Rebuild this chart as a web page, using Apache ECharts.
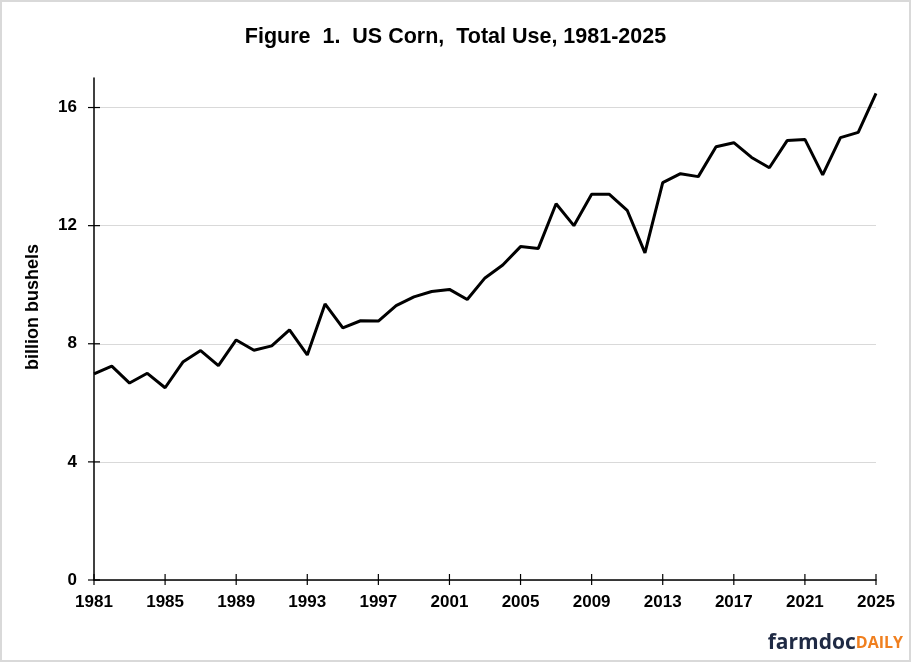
<!DOCTYPE html>
<html>
<head>
<meta charset="utf-8">
<script src="https://cdn.jsdelivr.net/npm/echarts@6/dist/echarts.min.js"></script>
<style>
  html, body { margin: 0; padding: 0; background: #fff; }
  #chart { width: 911px; height: 662px; box-sizing: border-box; border: 2px solid #d9d9d9; }
</style>
</head>
<body>
<div id="chart"></div>
<script>
// years 1981..2025 and total use (billion bushels)
const years = [
  1981, 1982, 1983, 1984, 1985, 1986, 1987, 1988, 1989, 1990,
  1991, 1992, 1993, 1994, 1995, 1996, 1997, 1998, 1999, 2000,
  2001, 2002, 2003, 2004, 2005, 2006, 2007, 2008, 2009, 2010,
  2011, 2012, 2013, 2014, 2015, 2016, 2017, 2018, 2019, 2020,
  2021, 2022, 2023, 2024, 2025
];
const totalUse = [
  6.98, 7.24, 6.67, 7.00, 6.51, 7.38, 7.77, 7.26, 8.13, 7.78,
  7.93, 8.47, 7.62, 9.35, 8.54, 8.78, 8.77, 9.29, 9.59, 9.77,
  9.84, 9.50, 10.23, 10.67, 11.29, 11.23, 12.74, 12.00, 13.06, 13.06,
  12.52, 11.08, 13.46, 13.76, 13.66, 14.67, 14.81, 14.31, 13.96, 14.88,
  14.92, 13.72, 14.98, 15.16, 16.48
];
const xTicks = [1981, 1985, 1989, 1993, 1997, 2001, 2005, 2009, 2013, 2017, 2021, 2025];
const yTicks = [0, 4, 8, 12, 16];
const yTickMax = 16;   // last labelled tick
const yAxisMax = 17;   // top of the axis line

const font = 'Liberation Sans, Arial, sans-serif';
const chart = echarts.init(document.getElementById('chart'));

// plot grid, plus a second grid that ends at the last tick (for labels/gridlines)
const G = { left: 92, right: 33, top: 76, bottom: 80 };
const plotH = 662 - 4 - G.top - G.bottom;
const tickGridTop = G.top + plotH * (yAxisMax - yTickMax) / yAxisMax;

// cross-shaped tick marks, placed through the axis scales
const tickData = xTicks.map(v => [v, 0, 0]).concat(yTicks.map(v => [xTicks[0], v, 1]));
function renderTick(params, api) {
  const p = api.coord([api.value(0), api.value(1)]);
  const vertical = api.value(2) === 0;
  const shape = vertical
    ? { x1: p[0], y1: p[1] - 6, x2: p[0], y2: p[1] + 5 }
    : { x1: p[0] - 6, y1: p[1], x2: p[0] + 6, y2: p[1] };
  return { type: 'line', shape: shape, style: { stroke: '#000', lineWidth: 1.2 } };
}

chart.setOption({
  animation: false,
  title: {
    text: 'Figure  1.  US Corn,  Total Use, 1981-2025',
    left: 'center',
    top: 19,
    textStyle: { fontFamily: font, fontWeight: 'bold', fontSize: 21.5, color: '#000' }
  },
  grid: [
    { left: G.left, right: G.right, top: G.top, bottom: G.bottom },
    { left: G.left, right: G.right, top: tickGridTop, bottom: G.bottom }
  ],
  xAxis: [
    {
      type: 'value',
      gridIndex: 0,
      min: 1981,
      max: 2025,
      interval: 4,
      axisLine: { show: true, lineStyle: { color: '#000', width: 1.5 } },
      axisTick: { show: false },
      axisLabel: {
        fontFamily: font, fontWeight: 'bold', fontSize: 17, color: '#000', margin: 14,
        formatter: v => String(v)
      },
      splitLine: { show: false }
    },
    { type: 'value', gridIndex: 1, min: 1981, max: 2025, show: false }
  ],
  yAxis: [
    {
      type: 'value',
      gridIndex: 0,
      min: 0,
      max: yAxisMax,
      axisLine: { show: true, lineStyle: { color: '#000', width: 1.5 } },
      axisTick: { show: false },
      axisLabel: { show: false },
      splitLine: { show: false }
    },
    {
      type: 'value',
      gridIndex: 1,
      min: 0,
      max: yTickMax,
      interval: 4,
      axisLine: { show: false },
      axisTick: { show: false },
      axisLabel: { fontFamily: font, fontWeight: 'bold', fontSize: 17, color: '#000', margin: 17 },
      splitLine: { show: true, lineStyle: { color: '#d9d9d9', width: 1 } }
    }
  ],
  graphic: [{
    type: 'text',
    x: 31,
    y: 305,
    rotation: Math.PI / 2,
    style: {
      text: 'billion bushels',
      align: 'center',
      verticalAlign: 'middle',
      font: 'bold 18px ' + font,
      fill: '#000'
    }
  }, {
    type: 'text',
    right: 6,
    bottom: 6,
    style: {
      text: '{a|farmdoc}{b|DAILY}',
      rich: {
        a: { fontFamily: 'Open Sans, sans-serif', fontWeight: 'bold', fontSize: 21, fill: '#1f2a44' },
        b: { fontFamily: 'Open Sans, sans-serif', fontWeight: 'bold', fontSize: 16, fill: '#f07f1e' }
      }
    }
  }],
  series: [{
    type: 'line',
    xAxisIndex: 0,
    yAxisIndex: 0,
    data: years.map((y, i) => [y, totalUse[i]]),
    showSymbol: false,
    lineStyle: { color: '#000', width: 3 },
    z: 5
  }, {
    type: 'custom',
    xAxisIndex: 0,
    yAxisIndex: 0,
    clip: false,
    silent: true,
    data: tickData,
    renderItem: renderTick,
    z: 4
  }]
});
</script>
</body>
</html>
